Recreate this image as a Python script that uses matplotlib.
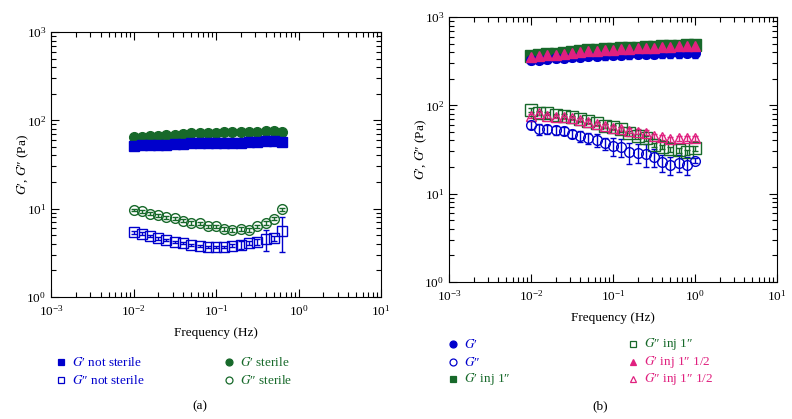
import matplotlib
matplotlib.use('Agg')
import matplotlib.pyplot as plt
from matplotlib.lines import Line2D
from matplotlib.ticker import LogLocator, NullFormatter

plt.rcParams['font.family'] = ['Liberation Serif', 'DejaVu Serif']
plt.rcParams['mathtext.fontset'] = 'stix'
plt.rcParams['font.size'] = 9.5

BLUE = '#0000cc'
GREEN = '#17692a'
PINK = '#e0207f'

# panel (a)
freq_a = [0.0100, 0.0126, 0.0158, 0.0200, 0.0251, 0.0316, 0.0398, 0.0501, 0.0631,
          0.0794, 0.100, 0.126, 0.158, 0.200, 0.251, 0.316, 0.398, 0.501, 0.631]
gp_ns = [51, 52, 52, 53, 53, 54, 54, 55, 55, 55, 56, 56, 56, 56, 57, 57, 58, 58, 57]
gp_ns_err = [5, 4, 4, 4, 4, 4, 4, 4, 4, 4, 4, 4, 4, 4, 4, 4, 5, 5, 6]
gpp_ns = [5.4, 5.2, 4.9, 4.6, 4.4, 4.2, 4.1, 3.9, 3.8, 3.7, 3.7, 3.65, 3.8, 3.85,
          4.1, 4.2, 4.5, 4.6, 5.6]
gpp_ns_err = [0.2, 0.2, 0.15, 0.15, 0.15, 0.1, 0.1, 0.1, 0.1, 0.1, 0.1, 0.1, 0.15,
              0.4, 0.2, 0.3, 1.2, 0.3, 2.4]
gp_s = [64, 65, 66, 67, 68, 69, 70, 71, 71, 72, 72, 73, 73, 74, 74, 74, 75, 76, 73]
gpp_s = [9.6, 9.3, 8.8, 8.4, 8.0, 7.8, 7.3, 6.9, 6.8, 6.3, 6.3, 5.9, 5.8, 5.9, 5.8,
         6.3, 6.9, 7.7, 9.8]
gpp_s_err = [0.3] * 19

# panel (b)
freq_b = [0.0100, 0.0126, 0.0158, 0.0200, 0.0251, 0.0316, 0.0398, 0.0501, 0.0631,
          0.0794, 0.100, 0.126, 0.158, 0.200, 0.251, 0.316, 0.398, 0.501, 0.631,
          0.794, 1.00]
gp = [325, 330, 335, 340, 345, 350, 355, 360, 365, 368, 372, 375, 378, 380, 382,
      384, 386, 388, 390, 392, 390]
gp_err = [30, 32, 32, 34, 34, 35, 36, 36, 38, 38, 38, 40, 40, 40, 42, 42, 42, 44,
          44, 44, 45]
gpp = [59.8, 54, 53.5, 52.5, 51.6, 47.3, 44.9, 42.2, 40.4, 37.1, 34.6, 34.0, 29.9,
       29.2, 28.1, 25.8, 22.6, 21.1, 22.4, 21.1, 23.6]
gpp_err = [6, 8, 6, 6, 5, 5, 6, 6, 7, 6, 8, 8, 8, 7, 8, 6, 5, 5, 5, 5, 1.5]
gp_inj = [362, 370, 378, 385, 395, 402, 410, 418, 425, 430, 436, 440, 445, 450, 455,
          460, 465, 470, 475, 478, 482]
gpp_inj = [88.5, 82.5, 81.0, 77.6, 75.7, 73.1, 69.4, 66.4, 62.5, 58.7, 56.3, 53.5,
           48.2, 44.9, 42.3, 35.5, 34.0, 31.8, 31.2, 29.6, 32.6]
gpp_inj_err = [5, 4, 4, 3, 3, 3, 3, 3, 3, 3, 3, 3, 3, 3, 3, 2, 2, 2, 2, 2, 2]
gp_inj2 = [350, 360, 368, 375, 385, 392, 400, 408, 415, 420, 426, 430, 435, 440,
           445, 450, 455, 460, 465, 468, 470]
gpp_inj2 = [75.7, 81, 75.7, 74.3, 73.1, 71.3, 68.2, 65.2, 61.4, 58.3, 55.8, 54, 51.7,
            50.3, 49, 44.9, 43.4, 41.2, 42.3, 42.3, 42.3]
gpp_inj2_err = [3] * 21

fig = plt.figure(figsize=(7.92, 4.19), dpi=100)
ax1 = fig.add_axes([0.0644, 0.2912, 0.4167, 0.6325])
ax2 = fig.add_axes([0.5669, 0.327, 0.4141, 0.6325])

G1 = '$G$\u2032'
G2 = '$G$\u2033'


def series(ax, x, y, err, marker, color, filled, ms=7):
    face = color if filled else 'none'
    ax.errorbar(x, y, yerr=err, fmt=marker, color=color, mfc=face, mec=color,
                ms=ms, mew=1.0, elinewidth=1.0, capsize=2.5, capthick=1.0)


def style(ax):
    ax.set_xscale('log')
    ax.set_yscale('log')
    ax.set_xlim(1e-3, 1e1)
    ax.set_ylim(1e0, 1e3)
    ax.xaxis.set_major_locator(LogLocator(base=10, numticks=10))
    ax.xaxis.set_minor_locator(LogLocator(base=10, subs=range(2, 10), numticks=10))
    ax.yaxis.set_minor_locator(LogLocator(base=10, subs=range(2, 10), numticks=10))
    ax.xaxis.set_minor_formatter(NullFormatter())
    ax.yaxis.set_minor_formatter(NullFormatter())
    ax.tick_params(which='both', direction='in', top=True, right=True, labelsize=9.5)
    ax.tick_params(which='major', length=6, width=0.8)
    ax.tick_params(which='minor', length=3.5, width=0.8)
    ax.tick_params(axis='x', which='major', pad=5)
    ax.set_xlabel('Frequency (Hz)', fontsize=9.5, labelpad=6)
    ax.set_ylabel(G1 + ', ' + G2 + ' (Pa)', fontsize=9.5, labelpad=-3)


# (a)
series(ax1, freq_a, gp_s, None, 'o', GREEN, True)
series(ax1, freq_a, gp_ns, gp_ns_err, 's', BLUE, True)
series(ax1, freq_a, gpp_s, gpp_s_err, 'o', GREEN, False)
series(ax1, freq_a, gpp_ns, gpp_ns_err, 's', BLUE, False)
style(ax1)

# (b)
series(ax2, freq_b, gp_inj, None, 's', GREEN, True, ms=8)
series(ax2, freq_b, gp, gp_err, 'o', BLUE, True)
series(ax2, freq_b, gp_inj2, None, '^', PINK, True)
series(ax2, freq_b, gpp_inj, gpp_inj_err, 's', GREEN, False, ms=8)
series(ax2, freq_b, gpp_inj2, gpp_inj2_err, '^', PINK, False)
series(ax2, freq_b, gpp, gpp_err, 'o', BLUE, False)
style(ax2)


# legends below the panels
def legend_entry(x, y, marker, color, filled, label):
    W, H = 792.0, 419.0
    fig.add_artist(Line2D([x / W], [1 - y / H], marker=marker, color=color,
                          mfc=color if filled else 'none', mec=color, ms=5,
                          mew=0.9, linestyle='none', transform=fig.transFigure))
    fig.text((x + 11) / W, 1 - y / H, label, color=color, fontsize=9.5,
             va='center', ha='left')


legend_entry(61, 362, 's', BLUE, True, G1 + ' not sterile')
legend_entry(61, 380, 's', BLUE, False, G2 + ' not sterile')
legend_entry(229, 362, 'o', GREEN, True, G1 + ' sterile')
legend_entry(229, 380, 'o', GREEN, False, G2 + ' sterile')

legend_entry(453, 344, 'o', BLUE, True, G1)
legend_entry(453, 362, 'o', BLUE, False, G2)
legend_entry(453, 379, 's', GREEN, True, G1 + ' inj 1\u2033')
legend_entry(633, 344, 's', GREEN, False, G2 + ' inj 1\u2033')
legend_entry(633, 362, '^', PINK, True, G1 + ' inj 1\u2033 1/2')
legend_entry(633, 379, '^', PINK, False, G2 + ' inj 1\u2033 1/2')

fig.text(200 / 792, 1 - 406 / 419, '(a)', ha='center', va='center', fontsize=9.5)
fig.text(600 / 792, 1 - 406 / 419, '(b)', ha='center', va='center', fontsize=9.5)

fig.savefig('out.png', dpi=100)
